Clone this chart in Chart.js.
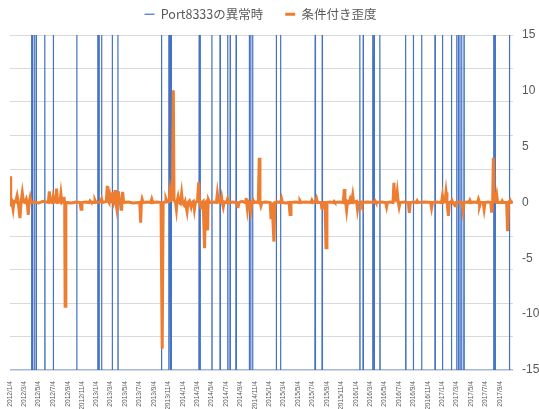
<!DOCTYPE html>
<html lang="ja">
<head>
<meta charset="UTF-8" />
<title>Port8333の異常時と条件付き歪度</title>
<script src="https://cdn.jsdelivr.net/npm/chart.js"></script>
<style>
  html, body { margin: 0; padding: 0; background: #fff; }
  #wrap { width: 539px; height: 409px; }
</style>
</head>
<body>
<div id="wrap"><canvas id="chart"></canvas></div>
<script>
// 日付はすべて 2012/1/4 からの日数
const startDate = "2012/1/4";
const lastDay = 2125;

// 目盛りラベル（2か月ごと）
const tickLabels = [
  "2012/1/4", "2012/3/4", "2012/5/4", "2012/7/4", "2012/9/4", "2012/11/4",
  "2013/1/4", "2013/3/4", "2013/5/4", "2013/7/4", "2013/9/4", "2013/11/4",
  "2014/1/4", "2014/3/4", "2014/5/4", "2014/7/4", "2014/9/4", "2014/11/4",
  "2015/1/4", "2015/3/4", "2015/5/4", "2015/7/4", "2015/9/4", "2015/11/4",
  "2016/1/4", "2016/3/4", "2016/5/4", "2016/7/4", "2016/9/4", "2016/11/4",
  "2017/1/4", "2017/3/4", "2017/5/4", "2017/7/4", "2017/9/4"
];

// Port8333の異常時（異常があった日）
const anomalyDays = [
  91, 96, 104, 111, 147, 183, 282, 371, 376, 387, 432, 456,
  640, 671, 676, 681, 799, 800, 803, 853, 887, 888, 920, 930, 955, 956,
  1011, 1017, 1025, 1125, 1143, 1289, 1290, 1319, 1478, 1492,
  1532, 1533, 1538, 1539, 1562, 1563, 1671, 1672, 1704, 1739, 1795, 1796,
  1827, 1865, 1887, 1894, 1901, 1908, 1918, 2043, 2045, 2047, 2050, 2110
];

// 条件付き歪度 [日, 値]
const skewPoints = [
  [0, 2.35], [3, -0.1], [8, 0.05], [13, -0.6], [17, 0.1], [24, 0.05], [30, 0.6], [35, 0],
  [42, -1.4], [47, 0.1], [52, 0.87], [57, 0.05], [64, 0], [69, 0.3], [73, 0], [77, -1.1],
  [81, 0.05], [85, 0.45], [89, 0], [100, 0.05], [120, -0.05], [140, 0.1], [162, 0], [166, 1.0],
  [170, 0.05], [178, 0], [182, 0.5], [186, 0], [193, 0.1], [197, 1.25], [201, 0], [211, 0.05],
  [215, 0.78], [219, 0], [224, 0.1], [228, 0.5], [231, 0], [233, -9.3], [236, 0], [260, -0.05],
  [280, 0.05], [296, 0], [300, -0.6], [304, 0], [320, 0.05], [334, 0], [338, 0.15], [342, 0.05],
  [355, 0], [359, 0.2], [363, 0], [383, 0.05], [387, 0.3], [391, 0], [407, 0.1], [411, 1.5],
  [415, 0.1], [418, 0], [422, 0.6], [426, 0.05], [430, 0.1], [434, 0.9], [438, 0], [441, 0.2],
  [444, 1.1], [447, 0.1], [451, -0.5], [454, 0.1], [458, 1.0], [462, 0.1], [466, 0], [469, -0.6],
  [472, 0.1], [476, 0.95], [480, 0], [500, 0.05], [520, -0.05], [548, 0], [552, -1.8], [555, 0],
  [558, 0.3], [562, 0], [580, 0.05], [595, 0], [599, 0.3], [603, 0], [620, 0.05], [638, 0],
  [643, -13.1], [647, 0], [655, 0.05], [659, 0.3], [663, 0.05], [672, 0.1], [676, 0.95], [680, 0.2],
  [686, 0.3], [690, 10.05], [693, 0.2], [699, 0.1], [703, -0.6], [706, 0.1], [710, 0.5], [714, 0],
  [720, -0.1], [725, 0.8], [729, 0], [735, -0.2], [740, 0.1], [748, -0.8], [752, 0], [758, 0.15],
  [765, -0.4], [769, 0], [775, 0.1], [779, -0.6], [783, 0], [792, 0.1], [797, 1.8], [800, 0.1],
  [803, 0], [807, -0.5], [811, 0], [816, 0.1], [822, -4.1], [826, 0], [830, 0.1], [835, -2.5],
  [837, 0], [839, 0.2], [843, 0], [860, 0.05], [872, 0], [876, 0.78], [880, 0.05], [890, 0],
  [894, 0.45], [897, 0], [901, -0.4], [905, 0.05], [915, 0], [919, 0.3], [923, 0], [940, 0.05],
  [959, 0], [963, -0.5], [967, 0], [980, 0.1], [993, 0], [997, 0.4], [1000, 0], [1003, -0.6],
  [1007, 0.1], [1013, 0], [1017, -0.7], [1021, 0], [1027, 0.2], [1031, 0], [1040, 0.05], [1049, 0],
  [1053, 4.0], [1056, 0.1], [1060, -0.3], [1064, 0], [1080, 0.05], [1099, 0], [1103, -1.5], [1107, 0],
  [1111, 0], [1115, -3.5], [1119, 0], [1130, 0.05], [1143, 0], [1147, 0.35], [1151, 0], [1165, -0.05],
  [1179, 0], [1183, -1.07], [1187, 0], [1205, 0.05], [1221, 0], [1225, 0.15], [1229, 0], [1250, 0.05],
  [1271, 0], [1275, 0.2], [1279, 0], [1291, 0.1], [1295, 0.35], [1299, 0], [1314, 0], [1318, -0.6],
  [1322, 0], [1331, 0], [1335, -4.06], [1339, 0], [1350, 0.05], [1365, 0], [1369, 0.1], [1373, 0],
  [1390, 0.05], [1408, 0], [1412, 1.2], [1415, 0.1], [1418, 0], [1422, -0.7], [1426, 0.1], [1433, 0],
  [1437, 0.3], [1441, 0], [1444, 0.1], [1448, 0.65], [1452, 0], [1464, 0.1], [1468, -0.6], [1472, 0],
  [1483, 0.05], [1487, -0.2], [1491, 0], [1510, 0.05], [1538, 0], [1542, 0.15], [1546, 0], [1570, 0.05],
  [1587, 0], [1591, -0.4], [1595, 0], [1605, 0.05], [1618, 0], [1622, 1.77], [1626, 0.2], [1632, 0.2],
  [1636, 0.92], [1640, 0.1], [1644, -0.4], [1648, 0], [1665, 0.05], [1683, 0], [1687, -0.93], [1691, 0],
  [1705, 0.05], [1716, 0], [1720, 0.15], [1724, 0], [1750, 0.05], [1777, 0], [1781, -0.5], [1785, 0],
  [1800, 0.05], [1823, 0], [1827, 0.57], [1831, 0], [1838, 0.1], [1842, 0.92], [1846, 0.1], [1852, -1.2],
  [1856, 0], [1863, 0.05], [1867, 0.2], [1871, 0], [1880, -0.3], [1884, 0], [1895, 0.05], [1910, 0],
  [1914, -0.7], [1918, 0], [1930, 0.05], [1939, 0], [1943, 0.2], [1947, 0], [1960, 0.05], [1975, 0],
  [1979, 0.3], [1982, 0.1], [1984, -0.3], [1988, 0], [1999, 0], [2003, -0.6], [2007, 0], [2020, 0.05],
  [2031, 0], [2035, -0.9], [2039, 0], [2042, 4.0], [2045, 0.2], [2050, 0.1], [2056, 0.7], [2060, 0],
  [2075, 0], [2079, 0.15], [2083, 0], [2098, 0], [2102, -2.57], [2106, 0], [2113, 0.2], [2117, 0],
  [2125, 0.05]
];

function daysFromStart(s) {
  const a = s.split("/").map(Number);
  const b = startDate.split("/").map(Number);
  return Math.round((Date.UTC(a[0], a[1] - 1, a[2]) - Date.UTC(b[0], b[1] - 1, b[2])) / 86400000);
}
const tickDays = tickLabels.map(daysFromStart);

// 異常日の 0/1 の線
const isAnomaly = new Set(anomalyDays);
const anomalyLine = [{ x: 0, y: 0 }];
anomalyDays.forEach(d => {
  if (!isAnomaly.has(d - 1)) anomalyLine.push({ x: d - 1, y: 0 });
  anomalyLine.push({ x: d, y: 1 });
  if (!isAnomaly.has(d + 1)) anomalyLine.push({ x: d + 1, y: 0 });
});
anomalyLine.push({ x: lastDay, y: 0 });

const skewLine = skewPoints.map(p => ({ x: p[0], y: p[1] }));

const gray = "#595959";

// 凡例の高さと位置の調整
const legendTweak = {
  id: "legendTweak",
  beforeInit(chart) {
    const fit = chart.legend.fit;
    chart.legend.fit = function () {
      fit.call(this);
      this.height = 49;
    };
  },
  afterLayout(chart) {
    chart.legend.left -= 14;
    chart.legend.right -= 14;
  }
};

new Chart(document.getElementById("chart"), {
  type: "line",
  data: {
    datasets: [
      {
        label: "Port8333の異常時",
        data: anomalyLine,
        borderColor: "#4472C4",
        backgroundColor: "#4472C4",
        borderWidth: 1.2,
        pointRadius: 0,
        yAxisID: "y",
        order: 1
      },
      {
        label: "条件付き歪度",
        data: skewLine,
        borderColor: "#ED7D31",
        backgroundColor: "#ED7D31",
        borderWidth: 3,
        pointRadius: 0,
        yAxisID: "y2",
        order: 0
      }
    ]
  },
  plugins: [legendTweak],
  options: {
    responsive: true,
    maintainAspectRatio: false,
    animation: false,
    layout: { padding: { top: -14, left: 10, right: 0, bottom: 0 } },
    plugins: {
      tooltip: { enabled: false },
      legend: {
        position: "top",
        labels: {
          usePointStyle: true,
          pointStyle: "line",
          pointStyleWidth: 10,
          padding: 22,
          color: gray,
          font: { family: "'Noto Sans CJK JP', 'Noto Sans'", size: 12.5 },
          sort: (a, b) => a.datasetIndex - b.datasetIndex
        }
      }
    },
    scales: {
      x: {
        type: "linear",
        min: 0,
        max: lastDay,
        grid: { display: false },
        border: { display: false },
        afterBuildTicks: axis => { axis.ticks = tickDays.map(v => ({ value: v })); },
        afterFit: axis => { axis.height = 39; },
        ticks: {
          autoSkip: false,
          minRotation: 90,
          maxRotation: 90,
          padding: 3,
          color: gray,
          font: { family: "'Liberation Sans', Arial", size: 6.6 },
          callback: (value, i) => tickLabels[i]
        }
      },
      y: {
        position: "left",
        min: 0,
        max: 1,
        ticks: { display: false, stepSize: 0.1 },
        grid: { color: "#d9d9d9", drawTicks: false },
        border: { display: false }
      },
      y2: {
        position: "right",
        min: -15,
        max: 15,
        afterFit: axis => { axis.width = 26; },
        ticks: {
          stepSize: 5,
          padding: 9,
          color: gray,
          font: { family: "'Liberation Sans', Arial", size: 12 }
        },
        grid: { display: false, drawTicks: false },
        border: { display: false }
      }
    }
  }
});
</script>
</body>
</html>
